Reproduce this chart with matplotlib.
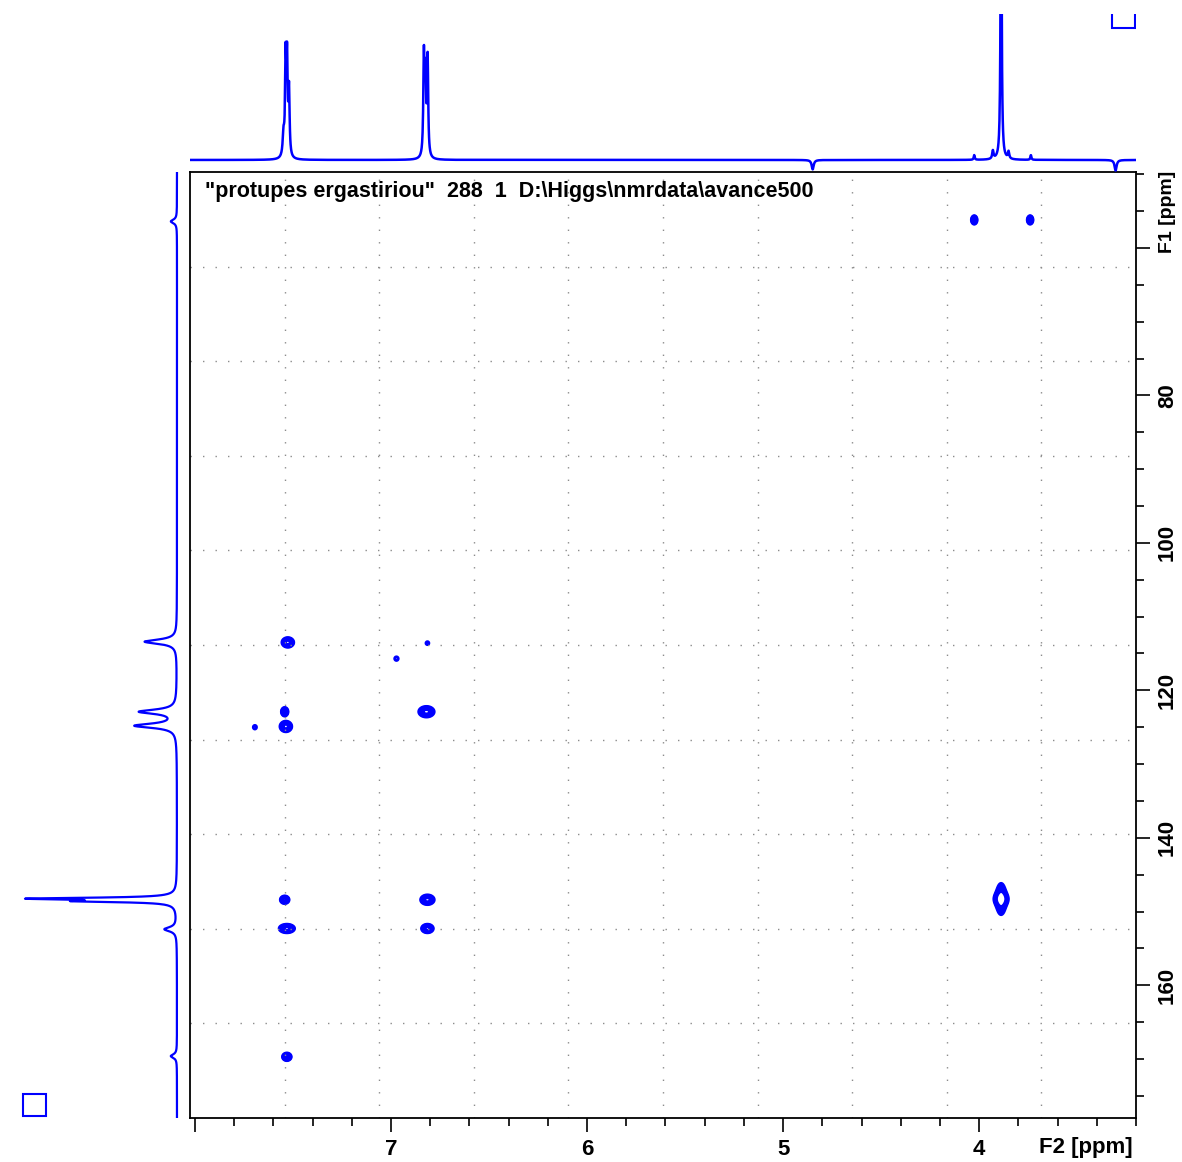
import numpy as np
import matplotlib.pyplot as plt
from matplotlib.patches import Rectangle
from matplotlib.ticker import FixedLocator, MultipleLocator

plt.rcParams['font.family'] = ['Liberation Sans', 'DejaVu Sans']
plt.rcParams['font.weight'] = 'bold'

title_text = '"protupes ergastiriou"  288  1  D:\\Higgs\\nmrdata\\avance500'
f2_range = (8.025, 3.2)
f1_range = (49.7, 178.0)
f2_ticks = [8, 7, 6, 5, 4]
f2_ticklabels = ['', '7', '6', '5', '4']
f1_ticks = [60, 80, 100, 120, 140, 160]
f1_ticklabels = ['', '80', '100', '120', '140', '160']

# 2D cross peaks (F2 ppm, F1 ppm, intensity, sigma F2, sigma F1)
peak_f2 = [7.526, 7.542, 7.536, 7.542, 7.531, 7.531, 6.819, 6.814, 6.814,
           7.694, 6.972, 6.814, 3.888, 3.888, 4.025, 3.740]
peak_f1 = [113.5, 122.9, 124.9, 148.4, 152.3, 169.7, 122.9, 148.4, 152.3,
           125.0, 115.7, 113.6, 148.3, 148.3, 56.2, 56.2]
peak_amp = [1.0, 1.0, 1.0, 1.0, 1.0, 1.0, 1.0, 1.0, 1.0,
            0.4, 0.4, 0.4, 0.9, 0.7, 1.0, 1.0]
peak_w2 = [0.020, 0.0115, 0.020, 0.015, 0.026, 0.015, 0.026, 0.023, 0.020,
           0.012, 0.013, 0.011, 0.018, 0.024, 0.010, 0.010]
peak_w1 = [0.44, 0.39, 0.48, 0.35, 0.39, 0.35, 0.48, 0.44, 0.39,
           0.36, 0.36, 0.30, 1.45, 0.55, 0.39, 0.39]
contour_levels = [0.3, 0.38, 0.47, 0.58, 0.7, 0.85]

# 1H projection (top)
h_ppm = [7.548, 7.537, 7.530, 7.520, 6.832, 6.824, 6.813,
         4.025, 3.930, 3.888, 3.850, 3.736, 4.849, 3.304]
h_int = [0.18, 0.79, 0.77, 0.55, 0.85, 0.65, 0.83,
         0.04, 0.07, 3.0, 0.06, 0.04, -0.08, -0.09]
h_width = [0.005, 0.0035, 0.0035, 0.0035, 0.0035, 0.0035, 0.0035,
           0.003, 0.004, 0.003, 0.004, 0.003, 0.006, 0.006]

# 13C projection (left)
c_ppm = [56.4, 113.4, 122.9, 124.8, 148.25, 148.6, 152.4, 169.6]
c_int = [0.04, 0.21, 0.24, 0.27, 0.9, 0.55, 0.08, 0.04]
c_width = [0.3, 0.35, 0.35, 0.35, 0.15, 0.15, 0.35, 0.3]

W, H = 1182, 1162
fig = plt.figure(figsize=(W / 100, H / 100), dpi=100)
blue = '#0000ff'

# main 2D axes
ax = fig.add_axes([190 / W, 1 - 1118 / H, 946 / W, 946 / H])
x = np.linspace(f2_range[1], f2_range[0], 1300)
y = np.linspace(f1_range[0], f1_range[1], 1300)
X, Y = np.meshgrid(x, y)
Z = np.zeros_like(X)
for p2, p1, a, s2, s1 in zip(peak_f2, peak_f1, peak_amp, peak_w2, peak_w1):
    Z += a * np.exp(-0.5 * (((X - p2) / s2) ** 2 + ((Y - p1) / s1) ** 2))
ax.contour(X, Y, Z, levels=contour_levels, colors=blue, linewidths=1.8)

ax.set_xlim(*f2_range)
ax.set_ylim(f1_range[1], f1_range[0])

for gx in np.linspace(f2_range[0], f2_range[1], 11)[1:-1]:
    ax.axvline(gx, color='#8c8c8c', lw=1.0, ls=(0, (1, 8)))
for gy in np.linspace(f1_range[0], f1_range[1], 11)[1:-1]:
    ax.axhline(gy, color='#8c8c8c', lw=1.0, ls=(0, (1, 8)))

ax.xaxis.set_major_locator(FixedLocator(f2_ticks))
ax.set_xticklabels(f2_ticklabels)
ax.xaxis.set_minor_locator(MultipleLocator(0.2))
ax.yaxis.tick_right()
ax.yaxis.set_major_locator(FixedLocator(f1_ticks))
ax.set_yticklabels(f1_ticklabels)
ax.yaxis.set_minor_locator(MultipleLocator(5))
ax.tick_params(which='major', length=10, width=1.2, labelsize=16, pad=5)
ax.tick_params(which='minor', length=5.5, width=1.2)
ax.tick_params(axis='y', which='both', left=False, right=True)
ax.tick_params(axis='x', which='both', top=False, bottom=True)
for lab in ax.get_yticklabels():
    lab.set_rotation(90)
    lab.set_va('center')
for sp in ax.spines.values():
    sp.set_linewidth(1.3)

ax.text(0.016, 0.990, title_text, transform=ax.transAxes, ha='left', va='top',
        fontsize=15.5, fontweight='bold')

fig.text(1133 / W, 1 - 1147 / H, 'F2 [ppm]', ha='right', va='center',
         fontsize=16, fontweight='bold')
fig.text(1167 / W, 1 - 212 / H, 'F1 [ppm]', ha='center', va='center',
         rotation=90, fontsize=14, fontweight='bold')

# top 1H projection
ax_top = fig.add_axes([190 / W, 1 - 172 / H, 946 / W, 158 / H])
hx = np.linspace(f2_range[1], f2_range[0], 6000)
hy = np.zeros_like(hx)
for p, a, g in zip(h_ppm, h_int, h_width):
    hy += a * g ** 2 / ((hx - p) ** 2 + g ** 2)
ax_top.plot(hx, hy, color=blue, lw=1.8)
ax_top.set_xlim(*f2_range)
ax_top.set_ylim(-0.102, 1.237)
ax_top.axis('off')
ax_top.add_patch(Rectangle((0.9746, 0.911), 0.0243, 0.146, transform=ax_top.transAxes,
                           fill=False, ec=blue, lw=1.5, clip_on=True))

# left 13C projection
ax_left = fig.add_axes([10 / W, 1 - 1118 / H, 175 / W, 946 / H])
cy = np.linspace(f1_range[0], f1_range[1], 4000)
cx = np.zeros_like(cy)
for p, a, g in zip(c_ppm, c_int, c_width):
    cx += a * g ** 2 / ((cy - p) ** 2 + g ** 2)
ax_left.plot(cx, cy, color=blue, lw=1.6)
ax_left.set_ylim(f1_range[1], f1_range[0])
ax_left.set_xlim(1.084, -0.052)
ax_left.axis('off')

fig.patches.append(Rectangle((23 / W, 1 - 1116 / H), 23 / W, 22 / H,
                             transform=fig.transFigure, fill=False, ec=blue, lw=1.5))

fig.savefig('out.png', dpi=100)
